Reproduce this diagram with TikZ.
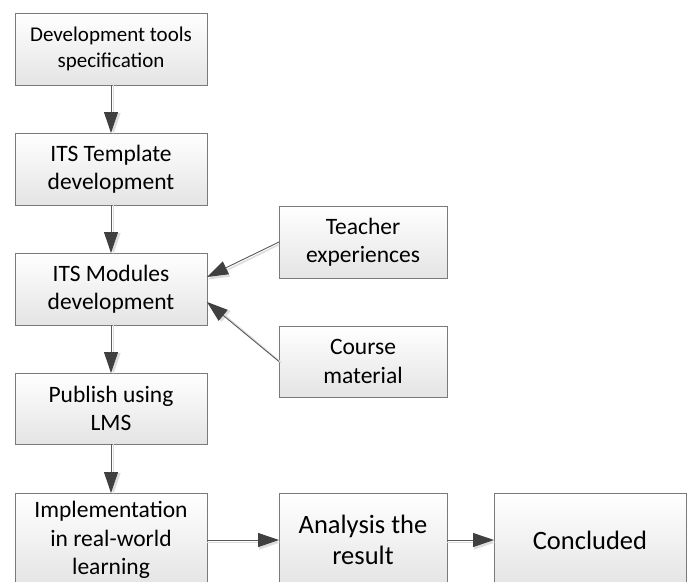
\documentclass[tikz,border=0pt]{standalone}
\usepackage{fontspec}
\setmainfont{Carlito}
\usetikzlibrary{arrows.meta,calc}
\definecolor{boxborder}{HTML}{7A7A7A}
\definecolor{boxbottom}{HTML}{E4E4E4}
\definecolor{linecol}{HTML}{5A5A5A}
\definecolor{arrowcol}{HTML}{404040}
\definecolor{shadowcol}{HTML}{DDDDDD}
\tikzset{
  box/.style={draw=boxborder, line width=0.9pt, top color=white, bottom color=boxbottom,
    align=center, inner sep=0pt, outer sep=0pt, font=\fontsize{23.5}{28.5}\selectfont},
  wide/.style={minimum width=192pt},
  narrow/.style={minimum width=168pt},
  arr/.style={draw=linecol, line width=0.9pt,
    -{Triangle[length=21pt,width=14pt,fill=arrowcol,color=arrowcol]}},
  sharr/.style={draw=shadowcol, line width=1.6pt,
    -{Triangle[length=21pt,width=14pt,fill=shadowcol,color=shadowcol]}}
}
\begin{document}
\begin{tikzpicture}[x=1pt,y=1pt]
\useasboundingbox (0,0) rectangle (690,-581);
\clip (0,0) rectangle (690,-581);
\fill[white] (0,0) rectangle (690,-581);
% nodes
\node[box,wide,minimum height=72pt,font=\fontsize{21}{25.5}\selectfont] (b1) at (111,-49) {Development tools\\specification};
\node[box,wide,minimum height=72pt] (b2) at (111,-169) {ITS Template\\development};
\node[box,wide,minimum height=72pt] (b3) at (111,-289) {ITS Modules\\development};
\node[box,wide,minimum height=71pt] (b4) at (111,-408.5) {Publish using\\LMS};
\node[box,wide,minimum height=94pt] (b5) at (111,-540) {Implementation\\in real-world\\learning};
\node[box,narrow,minimum height=72pt] (t) at (363,-242) {Teacher\\experiences};
\node[box,narrow,minimum height=71pt] (c) at (363,-361.5) {Course\\material};
\node[box,narrow,minimum height=94pt,font=\fontsize{26.5}{31}\selectfont] (a) at (363,-540) {Analysis the\\result};
\node[box,wide,minimum height=94pt,font=\fontsize{26.5}{31}\selectfont] (k) at (590,-540) {Concluded};
\coordinate (t3) at ($(b3.east)+(0,12)$);
\coordinate (c3) at ($(b3.east)+(0,-13)$);
% shadows
\draw[sharr] ([xshift=2.5pt]b1.south) -- ([xshift=2.5pt,yshift=-1pt]b2.north);
\draw[sharr] ([xshift=2.5pt]b2.south) -- ([xshift=2.5pt,yshift=-1pt]b3.north);
\draw[sharr] ([xshift=2.5pt]b3.south) -- ([xshift=2.5pt,yshift=-1pt]b4.north);
\draw[sharr] ([xshift=2.5pt]b4.south) -- ([xshift=2.5pt,yshift=-1pt]b5.north);
\draw[sharr] ([yshift=-2.5pt]b5.east) -- ([xshift=1pt,yshift=-2.5pt]a.west);
\draw[sharr] ([yshift=-2.5pt]a.east) -- ([xshift=1pt,yshift=-2.5pt]k.west);
\draw[sharr] ([yshift=-2.5pt]t.west) -- ([xshift=1pt,yshift=-2.5pt]t3);
\draw[sharr] ([xshift=2pt,yshift=-1pt]c.west) -- ([xshift=3pt,yshift=-1pt]c3);
% arrows
\draw[arr] (b1.south) -- (b2.north);
\draw[arr] (b2.south) -- (b3.north);
\draw[arr] (b3.south) -- (b4.north);
\draw[arr] (b4.south) -- (b5.north);
\draw[arr] (b5.east) -- (a.west);
\draw[arr] (a.east) -- (k.west);
\draw[arr] (t.west) -- (t3);
\draw[arr] (c.west) -- (c3);
\end{tikzpicture}
\end{document}
